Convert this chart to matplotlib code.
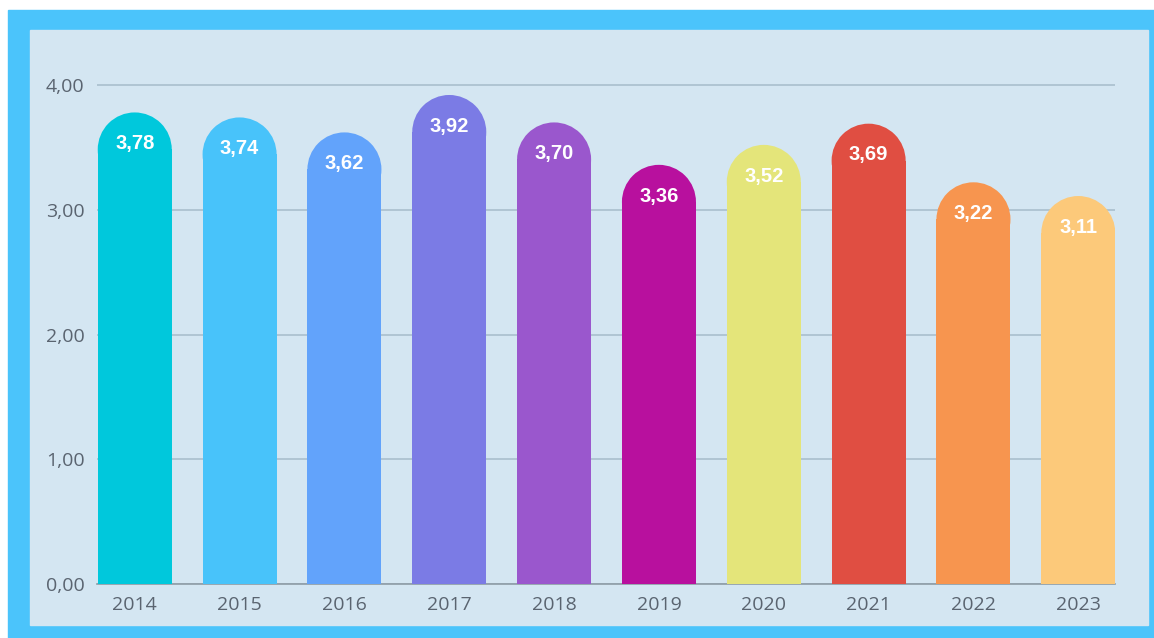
import matplotlib.pyplot as plt
from matplotlib.patches import Rectangle, Ellipse

# annual values
years = ["2014", "2015", "2016", "2017", "2018", "2019", "2020", "2021", "2022", "2023"]
values = [3.78, 3.74, 3.62, 3.92, 3.70, 3.36, 3.52, 3.69, 3.22, 3.11]
colors = ["#00C8DC", "#48C3FA", "#62A3FB", "#7B7BE5", "#9A57CD",
          "#B8109E", "#E4E57A", "#E04E42", "#F7954F", "#FCC97A"]
yticks = [0, 1, 2, 3, 4]
ytick_labels = ["0,00", "1,00", "2,00", "3,00", "4,00"]

W, H = 1154, 638
fig = plt.figure(figsize=(W / 100, H / 100), dpi=100)
fig.patch.set_facecolor("white")

# blue frame and pale panel behind the axes
fig.patches.append(Rectangle((8 / W, 0), (W - 8) / W, (H - 10) / H,
                             transform=fig.transFigure, color="#4BC4FB", zorder=-2))
fig.patches.append(Rectangle((30 / W, 13 / H), (1148 - 30) / W, (625 - 30) / H,
                             transform=fig.transFigure, color="#D4E6F2", zorder=-1))

ymax = 4.2
ax_left, ax_right, ax_bottom = 97, 1115, 584
px_per_unit = 124.75
ax_h = ymax * px_per_unit
ax = fig.add_axes([ax_left / W, (H - ax_bottom) / H, (ax_right - ax_left) / W, ax_h / H])
ax.set_facecolor("none")
ax.set_zorder(1)

xmin, xmax = -0.36, 9.35
ax.set_xlim(xmin, xmax)
ax.set_ylim(0, ymax)

bar_w = 0.706
# radius of rounded cap in y data units (half bar width in pixels)
px_per_x = (ax_right - ax_left) / (xmax - xmin)
r_px = bar_w * px_per_x / 2
r_y = r_px / px_per_unit

for i, (v, c) in enumerate(zip(values, colors)):
    ax.bar(i, v - r_y, width=bar_w, color=c, zorder=3, linewidth=0)
    ax.add_patch(Ellipse((i, v - r_y), bar_w, 2 * r_y, color=c, zorder=3, linewidth=0))
    ax.annotate(f"{v:.2f}".replace(".", ","), (i, v), xytext=(0, -22.5),
                textcoords="offset points", ha="center", va="center",
                color="white", fontsize=14.5, fontweight="bold",
                family=["Liberation Sans", "DejaVu Sans"], zorder=4)

ax.set_yticks(yticks)
ax.set_yticklabels(ytick_labels)
ax.set_xticks(range(len(years)))
ax.set_xticklabels(years)
ax.grid(axis="y", color="#A9BFCD", linewidth=1.2, zorder=1)
for s in ["top", "right", "left"]:
    ax.spines[s].set_visible(False)
ax.spines["bottom"].set_color("#8E9CA6")
ax.spines["bottom"].set_linewidth(1.2)
ax.spines["bottom"].set_zorder(2)
ax.tick_params(axis="both", length=0, labelsize=14, labelcolor="#5A6470")
ax.tick_params(axis="y", pad=9)
ax.tick_params(axis="x", pad=8.5)
for lab in ax.get_xticklabels() + ax.get_yticklabels():
    lab.set_family(["Open Sans", "DejaVu Sans"])

fig.savefig("out.png", dpi=100)
